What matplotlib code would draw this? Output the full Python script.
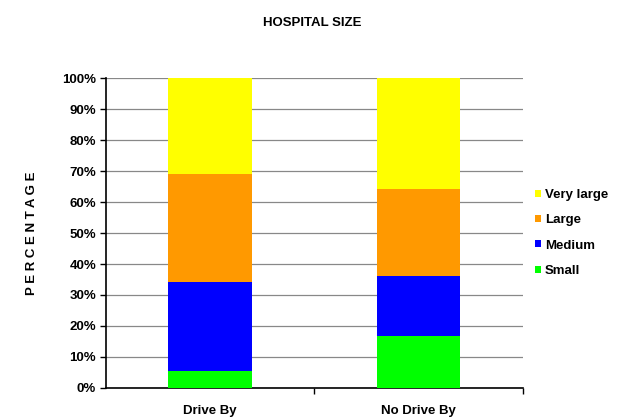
import numpy as np
import matplotlib
matplotlib.use('Agg')
import matplotlib.pyplot as plt
from matplotlib.ticker import PercentFormatter

plt.rcParams['font.family'] = ['Liberation Sans', 'DejaVu Sans']

# percentages per hospital size, stacked bottom to top
groups = ['Drive By', 'No Drive By']
sizes = ['Small', 'Medium', 'Large', 'Very large']
small = [5.4, 16.9]
medium = [28.7, 19.1]
large = [35.0, 28.2]
very_large = [30.9, 35.8]
colors = ['#00FF00', '#0000FF', '#FF9900', '#FFFF00']

fig = plt.figure(figsize=(6.22, 4.18), dpi=100)
ax = fig.add_axes([0.170, 0.072, 0.671, 0.741])

x = np.arange(len(groups))
bottom = np.zeros(len(groups))
handles = []
for name, vals, c in zip(sizes, [small, medium, large, very_large], colors):
    h = ax.bar(x, vals, width=0.4, bottom=bottom, color=c, label=name, zorder=3)
    handles.append(h)
    bottom += np.array(vals)

ax.set_xlim(-0.5, 1.5)
ax.set_ylim(0, 100)
ax.set_yticks(np.arange(0, 101, 10))
ax.yaxis.set_major_formatter(PercentFormatter(decimals=0))
ax.grid(axis='y', color='#888888', linewidth=0.9, zorder=0)

ax.set_xticks(x)
ax.set_xticklabels(groups, fontsize=9.5, fontweight='bold')
ax.set_xticks([0.5, 1.5], minor=True)
ax.tick_params(axis='x', which='major', length=0, pad=12)
ax.tick_params(axis='x', which='minor', length=4, width=1, direction='out')
ax.tick_params(axis='y', labelsize=9.5, length=4, width=1, direction='out', pad=3)
for lab in ax.get_yticklabels():
    lab.set_fontweight('bold')

for side in ['top', 'right']:
    ax.spines[side].set_visible(False)
ax.spines['left'].set_linewidth(1.2)
ax.spines['bottom'].set_linewidth(1.2)

ax.set_ylabel('P E R C E N T A G E', fontsize=9.5, fontweight='bold', labelpad=17)
fig.text(0.502, 0.945, 'HOSPITAL SIZE', ha='center', va='center',
         fontsize=9.5, fontweight='bold')

ax.legend(handles[::-1], sizes[::-1], loc='center left', bbox_to_anchor=(1.0, 0.5),
          frameon=False, handlelength=0.45, handleheight=0.45,
          handletextpad=0.3, labelspacing=1.0, prop={'weight': 'bold', 'size': 9.5})

fig.savefig('out.png', dpi=100)
